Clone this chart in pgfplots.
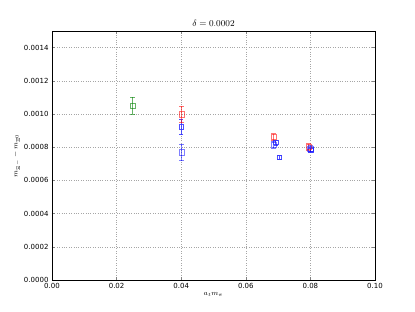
\documentclass[border=0pt]{standalone}
\usepackage{pgfplots}
\pgfplotsset{compat=1.18}
\usepackage{fontspec}
\setmainfont{DejaVu Sans}
\definecolor{mplblue}{rgb}{0,0,1}
\definecolor{darkblue}{rgb}{0.2,0.2,1}
\definecolor{mplred}{rgb}{1,0,0}
\definecolor{mplgreen}{rgb}{0,0.5,0}
\begin{document}
\begin{tikzpicture}
\begin{axis}[
  scale only axis, width=323pt, height=249pt,
  xmin=0, xmax=0.1, ymin=0, ymax=0.0015,
  xtick={0,0.02,0.04,0.06,0.08,0.1},
  ytick={0,0.0002,0.0004,0.0006,0.0008,0.0010,0.0012,0.0014},
  xticklabel style={/pgf/number format/.cd,fixed,fixed zerofill,precision=2,assume math mode=true},
  yticklabel style={/pgf/number format/.cd,fixed,fixed zerofill,precision=4,assume math mode=true},
  scaled x ticks=false, scaled y ticks=false,
  tick label style={font=\fontsize{7}{8}\selectfont},
  tick align=inside, major tick length=3pt,
  grid=major, grid style={dotted, gray!70, line width=0.5pt},
  axis line style={line width=0.6pt},
  title={$\delta=0.0002$}, title style={font=\small, yshift=-5pt},
  xlabel={$a_t m_\pi$}, ylabel={$m_{\Xi^-}-m_{\Xi^0}$},
  xlabel style={font=\scriptsize, yshift=3pt},
  ylabel style={font=\scriptsize, yshift=-3pt},
]
% dark blue
\addplot[darkblue, only marks, mark=square, mark size=2.3pt, line width=0.8pt, opacity=0.85,
  error bars/.cd, y dir=both, y explicit,
  error bar style={darkblue, line width=0.8pt},
  error mark options={rotate=90, mark size=2.2pt, darkblue, line width=0.8pt}] coordinates {
  (0.0400,0.000921) +- (0,0.000045)
  (0.0693,0.000828) +- (0,0.000015)
  (0.0704,0.000738) +- (0,0.00001)
  (0.0801,0.000782) +- (0,0.00001)
};
% green
\addplot[mplgreen, only marks, mark=square, mark size=2.6pt, opacity=0.6, line width=0.8pt,
  error bars/.cd, y dir=both, y explicit,
  error bar style={mplgreen, line width=0.9pt},
  error mark options={rotate=90, mark size=2.5pt, mplgreen, line width=0.9pt}] coordinates {
  (0.025,0.00105) +- (0,0.00005)
};
% red
\addplot[mplred, only marks, mark=square, mark size=2.6pt, opacity=0.55, line width=0.8pt,
  error bars/.cd, y dir=both, y explicit,
  error bar style={mplred, line width=0.9pt},
  error mark options={rotate=90, mark size=2.5pt, mplred, line width=0.9pt}] coordinates {
  (0.0402,0.000998) +- (0,0.00005)
  (0.0686,0.00086) +- (0,0.00002)
  (0.0795,0.000802) +- (0,0.00002)
};
% light blue
\addplot[mplblue, only marks, mark=square, mark size=2.6pt, opacity=0.5, line width=0.8pt,
  error bars/.cd, y dir=both, y explicit,
  error bar style={mplblue, line width=0.9pt},
  error mark options={rotate=90, mark size=2.5pt, mplblue, line width=0.9pt}] coordinates {
  (0.0401,0.000769) +- (0,0.00005)
  (0.0687,0.000815) +- (0,0.00002)
  (0.0800,0.000788) +- (0,0.00002)
};
\end{axis}
\path ([shift={(-52pt,-32pt)}]current axis.south west) rectangle ([shift={(40pt,31pt)}]current axis.north east);
\end{tikzpicture}
\end{document}
